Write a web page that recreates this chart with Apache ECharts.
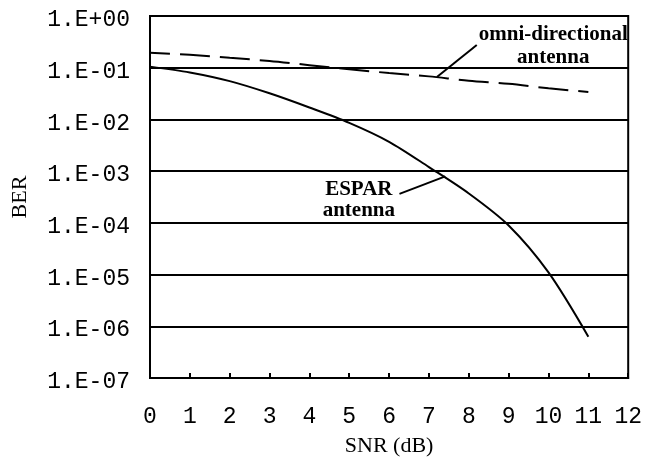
<!DOCTYPE html>
<html>
<head>
<meta charset="utf-8">
<script src="https://cdn.jsdelivr.net/npm/echarts@6/dist/echarts.min.js"></script>
<style>
html,body{margin:0;padding:0;background:#fff;}
#chart{width:645px;height:462px;}
</style>
</head>
<body>
<div id="chart"></div>
<script>
// ---- data ----
const snr = [0, 1, 2, 3, 4, 5, 6, 7, 8, 9, 10, 11];
const esparBer = [1.05e-1, 8.1e-2, 5.5e-2, 3.2e-2, 1.7e-2, 8.6e-3, 3.7e-3, 1.2e-3, 3.7e-4, 8.9e-5, 1.1e-5, 6.3e-7];
const omniBer  = [1.95e-1, 1.78e-1, 1.55e-1, 1.35e-1, 1.12e-1, 9.3e-2, 7.9e-2, 6.8e-2, 5.6e-2, 4.9e-2, 4.0e-2, 3.4e-2];
const xTickLabels = ['0','1','2','3','4','5','6','7','8','9','10','11','12'];
const yTickLabels = ['1.E+00','1.E-01','1.E-02','1.E-03','1.E-04','1.E-05','1.E-06','1.E-07'];
const seriesNames = ['ESPAR antenna', 'omni-directional antenna'];

// annotation anchors (data coordinates)
const omniText = 'omni-directional\nantenna';
const omniTextAt = [10.12, Math.pow(10, -0.58)];
const omniLeader = [[8.2, Math.pow(10, -0.56)], [7.2, Math.pow(10, -1.18)]];
const esparText = 'ESPAR\nantenna';
const esparTextAt = [5.24, Math.pow(10, -3.55)];
const esparLeader = [[6.26, Math.pow(10, -3.44)], [7.41, Math.pow(10, -3.10)]];

const chart = echarts.init(document.getElementById('chart'), null, {renderer: 'canvas'});

const option = {
  backgroundColor: '#ffffff',
  animation: false,
  grid: {
    left: 150, top: 16, width: 483, height: 363,
    show: true, borderColor: '#000', borderWidth: 2, backgroundColor: 'transparent'
  },
  xAxis: {
    type: 'value', min: 0, max: 12, interval: 1,
    name: 'SNR (dB)', nameLocation: 'middle', nameGap: 57,
    nameTextStyle: {fontFamily: 'Liberation Serif', fontSize: 22, color: '#000'},
    axisLine: {show: true, lineStyle: {color: '#000', width: 2}},
    axisTick: {show: true, inside: true, length: 5, lineStyle: {color: '#000', width: 2}},
    splitLine: {show: false},
    axisLabel: {
      margin: 27, color: '#000', fontFamily: 'Liberation Mono', fontSize: 23,
      formatter: v => xTickLabels[Math.round(v)]
    }
  },
  yAxis: {
    type: 'log', logBase: 10, min: 1e-7, max: 1, interval: 1,
    name: 'BER', nameLocation: 'middle', nameGap: 119,
    nameTextStyle: {fontFamily: 'Liberation Serif', fontSize: 22, color: '#000'},
    axisLine: {show: true, lineStyle: {color: '#000', width: 2}},
    axisTick: {show: false},
    splitLine: {show: true, lineStyle: {color: '#000', width: 2}},
    minorTick: {show: false},
    axisLabel: {
      margin: 20, color: '#000', fontFamily: 'Liberation Mono', fontSize: 23,
      verticalAlign: 'top', lineHeight: 8,
      formatter: v => yTickLabels[-Math.round(Math.log10(v))]
    }
  },
  series: [
    {
      name: seriesNames[0], type: 'line', smooth: 0.3, symbol: 'none',
      data: snr.map((x, i) => [x, esparBer[i]]),
      lineStyle: {color: '#000', width: 2}
    },
    {
      name: seriesNames[1], type: 'line', smooth: 0.3, symbol: 'none',
      data: snr.map((x, i) => [x, omniBer[i]]),
      lineStyle: {color: '#000', width: 2, type: [30, 10], dashOffset: 10}
    }
  ]
};
chart.setOption(option);

const px = p => chart.convertToPixel({xAxisIndex: 0, yAxisIndex: 0}, p);
const textFont = {fontFamily: 'Liberation Serif', fontSize: 21, fontWeight: 'bold'};
const o = px(omniTextAt), e = px(esparTextAt);
const ol0 = px(omniLeader[0]), ol1 = px(omniLeader[1]);
const el0 = px(esparLeader[0]), el1 = px(esparLeader[1]);
chart.setOption({
  graphic: [
    {type: 'text', x: o[0], y: o[1], z: 100,
     style: Object.assign({text: omniText, fill: '#000', align: 'center', verticalAlign: 'middle', lineHeight: 23}, textFont)},
    {type: 'text', x: e[0], y: e[1], z: 100,
     style: Object.assign({text: esparText, fill: '#000', align: 'center', verticalAlign: 'middle', lineHeight: 21}, textFont)},
    {type: 'line', z: 100, shape: {x1: ol0[0], y1: ol0[1], x2: ol1[0], y2: ol1[1]}, style: {stroke: '#000', lineWidth: 2}},
    {type: 'line', z: 100, shape: {x1: el0[0], y1: el0[1], x2: el1[0], y2: el1[1]}, style: {stroke: '#000', lineWidth: 2}}
  ]
});
</script>
</body>
</html>
